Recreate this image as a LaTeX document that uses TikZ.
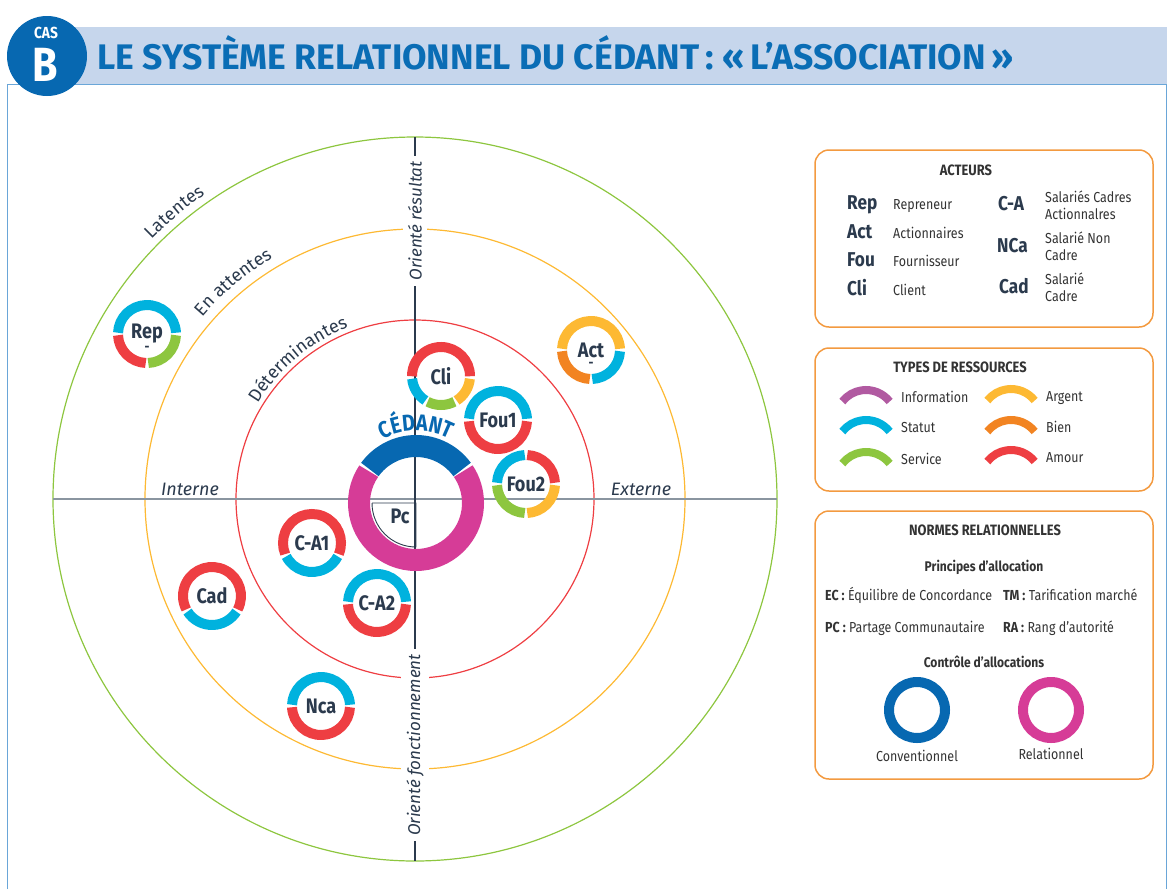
\documentclass[tikz,border=0pt]{standalone}
\usepackage{fontspec}
\setmainfont{Fira Sans}[FakeStretch=0.86]
\newfontfamily\widesans{Fira Sans}
\usetikzlibrary{decorations.text}

\definecolor{ink}{HTML}{2B3A4D}
\definecolor{textgrey}{HTML}{333333}
\definecolor{titleblue}{HTML}{0A6DB5}
\definecolor{bandblue}{HTML}{C6D6EC}
\definecolor{frameblue}{HTML}{6AA6D8}
\definecolor{cedblue}{HTML}{0768B1}
\definecolor{relpink}{HTML}{D63C97}
\definecolor{info}{HTML}{B15AA1}
\definecolor{statut}{HTML}{00B2DE}
\definecolor{service}{HTML}{8DC63F}
\definecolor{argent}{HTML}{FDB933}
\definecolor{bien}{HTML}{F28422}
\definecolor{amour}{HTML}{EE3E42}
\definecolor{legendline}{HTML}{F39A40}
\definecolor{axisgrey}{HTML}{8A95A0}

\tikzset{
  actor/.style={font=\bfseries\fontsize{21}{21}\selectfont, text=ink, inner sep=0pt},
  dashmark/.style={font=\bfseries\fontsize{14}{14}\selectfont, text=ink, inner sep=0pt},
  segline/.style={line width=10pt},
  zone/.style={line width=1.2pt},
  axislabel/.style={font=\widesans\itshape\fontsize{17}{17}\selectfont, text=ink, fill=white, inner sep=5pt},
  sidelabel/.style={font=\widesans\itshape\fontsize{18}{18}\selectfont, text=ink, inner sep=0pt},
  legendbox/.style={draw=legendline, line width=1.5pt, rounded corners=14pt},
  boxtitle/.style={font=\bfseries\fontsize{15}{15}\selectfont, text=textgrey, inner sep=0pt},
  subtitle/.style={font=\bfseries\fontsize{14}{14}\selectfont, text=textgrey, inner sep=0pt},
  abbr/.style={font=\bfseries\fontsize{20}{20}\selectfont, text=ink, inner sep=0pt},
  desc/.style={font=\fontsize{14.5}{17}\selectfont, text=textgrey, inner sep=0pt},
  ressarc/.style={line width=8pt},
  ctrlring/.style={circle, line width=10pt, minimum size=56pt, inner sep=0pt}
}

% one coloured piece of an actor ring: node, from, to, colour
\newcommand{\arcseg}[4]{%
  \draw[segline,#4] ([shift={(#2+2.5:29)}]#1.center) arc[start angle=#2+2.5, end angle=#3-2.5, radius=29];}
\newcommand{\zonefont}{\widesans\fontsize{18}{18}\selectfont\color{ink}}

\begin{document}
\begin{tikzpicture}[x=1pt, y=1pt]
\useasboundingbox (0,0) rectangle (1167,-889);

% header
\fill[bandblue] (45,-27) rectangle (1167,-84);
\draw[frameblue, line width=1pt] (7,-889) -- (7,-84) -- (1166,-84) -- (1166,-889);
\fill[cedblue] (47,-56) circle (40);
\node[anchor=base, text=white, font=\bfseries\fontsize{16}{16}\selectfont, inner sep=0pt] (cas) at (46,-38) {CAS};
\node[anchor=base, text=white, font=\bfseries\fontsize{48}{48}\selectfont, inner sep=0pt] (casB) at (45,-81) {B};
\node[anchor=base west, text=titleblue, font=\widesans\bfseries\fontsize{35.5}{35.5}\selectfont, inner sep=0pt] (title) at (97,-69)
  {LE SYSTÈME RELATIONNEL DU CÉDANT\,: «\,L’ASSOCIATION\,»};

% zones
\coordinate (O) at (415,-499);
\draw[zone, service] (O) circle (362);
\draw[zone, argent] (O) circle (270);
\draw[zone, amour] (O) circle (179);

% axes
\draw[axisgrey, line width=1.2pt] ([xshift=-362pt]O) -- ([xshift=362pt]O);
\draw[ink, line width=1.2pt] ([yshift=362pt]O) -- ([yshift=-362pt]O);
\node[axislabel, rotate=90] (res) at (415,-221) {Orienté résultat};
\node[axislabel, rotate=90] (fonc) at (415,-745) {Orienté fonctionnement};
\node[sidelabel] (int) at (190,-489) {Interne};
\node[sidelabel] (ext) at (641,-489) {Externe};

% zone names
\path[decorate, decoration={text along path, text align=center, text={|\zonefont|Latentes}}]
  ([shift={(165:370)}]O) arc[start angle=165, end angle=95, radius=370];
\path[decorate, decoration={text along path, text align=center, text={|\zonefont|En attentes}}]
  ([shift={(165:280)}]O) arc[start angle=165, end angle=95, radius=280];
\path[decorate, decoration={text along path, text align=center, text={|\zonefont|Déterminantes}}]
  ([shift={(165:184)}]O) arc[start angle=165, end angle=95, radius=184];

% cedant
\coordinate (ced) at (416,-503);
\draw[line width=22pt, cedblue] ([shift={(36:57)}]ced) arc[start angle=36, end angle=144, radius=57];
\draw[line width=22pt, relpink] ([shift={(146:57)}]ced) arc[start angle=146, end angle=394, radius=57];
\path[decorate, decoration={text along path, text align=center,
  text={|\bfseries\fontsize{23}{23}\selectfont\color{cedblue}|CÉDANT}}]
  ([shift={(135:72)}]ced) arc[start angle=135, end angle=45, radius=72];
\draw[ink, line width=0.9pt] ([xshift=-44pt]ced) -- (ced) -- ([yshift=-44pt]ced) arc[start angle=270, end angle=180, radius=44];
\node[actor] (Pc) at (400,-516) {Pc};

% actors
\node[actor] (Rep) at (147,-334) {Rep};
\node[dashmark] (Repdash) at ([yshift=-15pt]Rep.center) {-};
\arcseg{Rep}{0}{180}{statut}
\arcseg{Rep}{180}{270}{amour}
\arcseg{Rep}{270}{360}{service}

\node[actor] (Act) at (591,-350) {Act};
\node[dashmark] (Actdash) at ([yshift=-15pt]Act.center) {-};
\arcseg{Act}{0}{180}{argent}
\arcseg{Act}{180}{270}{bien}
\arcseg{Act}{270}{360}{statut}

\node[actor] (Cli) at (441,-376) {Cli};
\arcseg{Cli}{-3}{183}{amour}
\arcseg{Cli}{183}{240}{statut}
\arcseg{Cli}{240}{300}{service}
\arcseg{Cli}{300}{357}{argent}

\node[actor] (Fou1) at (498,-420) {Fou1};
\arcseg{Fou1}{0}{180}{statut}
\arcseg{Fou1}{180}{360}{amour}

\node[actor] (Fou2) at (526,-484) {Fou2};
\arcseg{Fou2}{0}{90}{amour}
\arcseg{Fou2}{90}{180}{statut}
\arcseg{Fou2}{180}{270}{service}
\arcseg{Fou2}{270}{360}{argent}

\node[actor] (CA1) at (312,-543) {C-A1};
\arcseg{CA1}{-25}{205}{amour}
\arcseg{CA1}{205}{335}{statut}

\node[actor] (Cad) at (212,-596) {Cad};
\arcseg{Cad}{-30}{210}{amour}
\arcseg{Cad}{210}{330}{statut}

\node[actor] (CA2) at (377,-603) {C-A2};
\arcseg{CA2}{0}{180}{statut}
\arcseg{CA2}{180}{360}{amour}

\node[actor] (Nca) at (321,-706) {Nca};
\arcseg{Nca}{0}{180}{statut}
\arcseg{Nca}{180}{360}{amour}

% legend: acteurs
\draw[legendbox] (815,-150) rectangle (1153,-327);
\node[boxtitle] (acteurs) at (966,-170) {ACTEURS};
\foreach \ab/\de/\b in {Rep/Repreneur/209, Act/Actionnaires/238, Fou/Fournisseur/266, Cli/Client/295}{
  \node[abbr, anchor=base west] (k\ab) at (847,-\b) {\ab};
  \node[desc, anchor=base west] (d\ab) at (893,-\b) {\de};
}
\node[abbr, anchor=base west] (kCA) at (998,-210) {C-A};
\node[desc, anchor=west, align=left] (dCA) at (1045,-205) {Salariés Cadres\\Actionnalres};
\node[abbr, anchor=base west] (kNCa) at (997,-252) {NCa};
\node[desc, anchor=west, align=left] (dNCa) at (1045,-246) {Salarié Non\\Cadre};
\node[abbr, anchor=base west] (kCad) at (999,-293) {Cad};
\node[desc, anchor=west, align=left] (dCad) at (1045,-287) {Salarié\\Cadre};

% legend: ressources
\draw[legendbox] (815,-348) rectangle (1153,-491);
\node[boxtitle] (types) at (960,-367) {TYPES DE RESSOURCES};
\foreach \col/\lab/\x/\y in {info/Information/866/395, statut/Statut/866/425, service/Service/866/457,
                            argent/Argent/1011/394, bien/Bien/1011/425, amour/Amour/1011/455}{
  \coordinate (r\lab) at (\x,-\y-25);
  \draw[ressarc,\col] ([shift={(38:30)}]r\lab) arc[start angle=38, end angle=142, radius=30];
  \node[desc, anchor=base west] (l\lab) at (\x+35,-\y-7) {\lab};
}

% legend: normes
\draw[legendbox] (815,-511) rectangle (1153,-779);
\node[boxtitle] (normes) at (985,-530) {NORMES RELATIONNELLES};
\node[subtitle] (princ) at (984,-567) {Principes d’allocation};
\node[desc, anchor=base west] (nEC) at (825,-600) {\textbf{EC :} Équilibre de Concordance};
\node[desc, anchor=base west] (nTM) at (1003,-600) {\textbf{TM :} Tarification marché};
\node[desc, anchor=base west] (nPC) at (825,-632) {\textbf{PC :} Partage Communautaire};
\node[desc, anchor=base west] (nRA) at (1003,-632) {\textbf{RA :} Rang d’autorité};
\node[subtitle] (ctrl) at (984,-662) {Contrôle d’allocations};
\node[ctrlring, draw=cedblue] (conv) at (917,-710) {};
\node[ctrlring, draw=relpink] (rel) at (1051,-710) {};
\node[desc] (lconv) at (917,-756) {Conventionnel};
\node[desc] (lrel) at (1051,-754) {Relationnel};
\end{tikzpicture}
\end{document}
